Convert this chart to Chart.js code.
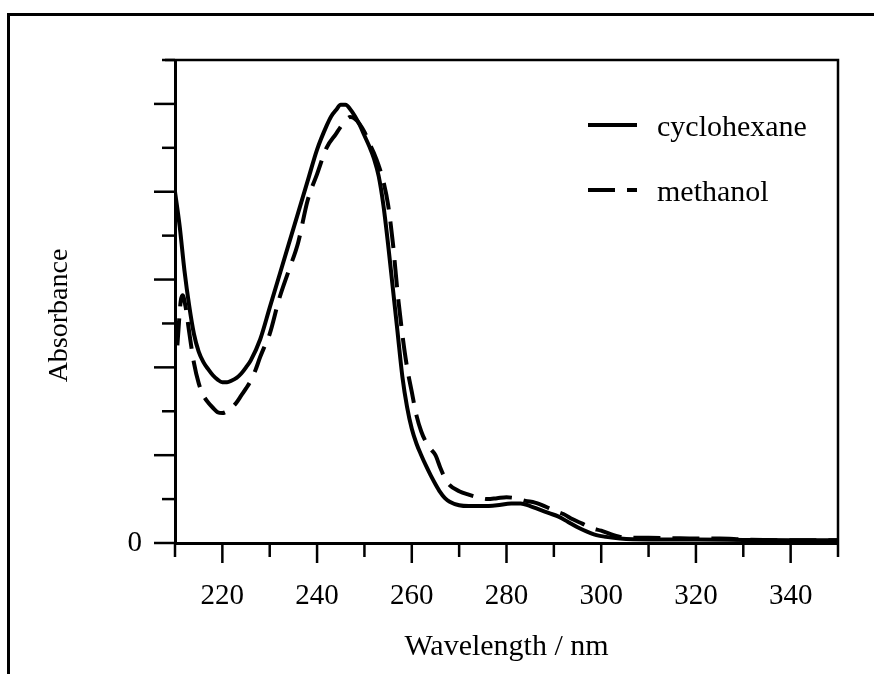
<!DOCTYPE html>
<html>
<head>
<meta charset="utf-8">
<script src="https://cdn.jsdelivr.net/npm/chart.js@4.4.1/dist/chart.umd.min.js"></script>
<style>
  html, body { margin: 0; padding: 0; background: #fff; }
  #frame { position: absolute; left: 7px; top: 13px; right: -10px; bottom: -10px;
           border-top: 3px solid #000; border-left: 3px solid #000; }
  #wrap { position: absolute; left: 0; top: 0; width: 874px; height: 674px; }
</style>
</head>
<body>
<div id="frame"></div>
<div id="wrap"><canvas id="c" width="874" height="674"></canvas></div>
<script>
// ---- data ----
const seriesNames = ['cyclohexane', 'methanol'];

const cycloWl = [210, 211, 212, 213, 214, 215, 216, 217, 218, 219, 220, 221, 222, 223, 224, 225, 226, 228, 230, 232, 234, 236, 238, 240, 242, 243, 244, 245, 246, 247, 248, 249, 250, 251, 252, 253, 254, 255, 256, 257, 258, 259, 260, 261, 262, 263, 264, 265, 266, 267, 268, 270, 272, 275, 278, 281, 283, 285, 287, 289, 291, 293, 295, 297, 299, 301, 304, 310, 320, 330, 340, 350];
const cycloAbs = [4.0, 3.6, 3.1, 2.7, 2.38, 2.18, 2.06, 1.98, 1.91, 1.86, 1.83, 1.83, 1.85, 1.88, 1.93, 2.0, 2.08, 2.32, 2.68, 3.04, 3.4, 3.76, 4.12, 4.48, 4.75, 4.86, 4.93, 4.99, 4.99, 4.94, 4.86, 4.76, 4.64, 4.52, 4.38, 4.18, 3.85, 3.4, 2.9, 2.4, 1.9, 1.55, 1.3, 1.13, 1.0, 0.88, 0.77, 0.67, 0.58, 0.51, 0.47, 0.43, 0.42, 0.42, 0.43, 0.45, 0.45, 0.42, 0.38, 0.34, 0.3, 0.24, 0.18, 0.13, 0.09, 0.07, 0.05, 0.04, 0.04, 0.035, 0.03, 0.03];

const methWl = [210.5, 211.2, 211.6, 212.2, 213, 214, 215, 216, 217, 218, 219, 220, 221, 222, 223, 224, 225, 226, 227, 228, 229, 230, 232, 234, 236, 238, 240, 242, 244, 245, 246, 247, 248, 249, 250, 251, 252, 253, 254, 255, 256, 257, 258, 259, 260, 261, 262, 263, 264, 265, 266, 267, 268, 270, 272, 274, 276, 278, 280, 282, 284, 286, 288, 290, 292, 294, 296, 298, 300, 302, 304, 306, 310, 315, 320, 325, 330, 340, 350];
const methAbs = [2.25, 2.75, 2.82, 2.7, 2.4, 2.05, 1.82, 1.68, 1.6, 1.54, 1.49, 1.48, 1.5, 1.54, 1.6, 1.68, 1.76, 1.85, 1.97, 2.12, 2.25, 2.38, 2.78, 3.1, 3.42, 3.9, 4.2, 4.5, 4.66, 4.74, 4.81, 4.85, 4.83, 4.77, 4.68, 4.56, 4.44, 4.3, 4.12, 3.85, 3.42, 2.85, 2.38, 2.0, 1.72, 1.45, 1.27, 1.15, 1.07, 1.0, 0.86, 0.74, 0.66, 0.59, 0.55, 0.52, 0.5, 0.51, 0.52, 0.51, 0.48, 0.46, 0.42, 0.37, 0.33, 0.27, 0.22, 0.17, 0.14, 0.1, 0.07, 0.06, 0.06, 0.055, 0.05, 0.05, 0.04, 0.03, 0.03];

const xMin = 210, xMax = 350, xStep = 10, xLabelEvery = 20;
const yMin = 0, yMax = 5.5, yStep = 0.5;
const yTickLabels = { 0: '0' };
const xTitle = 'Wavelength / nm';
const yTitle = 'Absorbance';

const FONT = "'Liberation Serif', 'Times New Roman', serif";

const toPts = (xs, ys) => xs.map((x, i) => ({ x: x, y: ys[i] }));

// ---- custom drawing: ticks, plot box, y title, legend ----
const decor = {
  id: 'decor',
  afterDraw(chart) {
    const ctx = chart.ctx, a = chart.chartArea;
    const xs = chart.scales.x, ys = chart.scales.y;
    ctx.save();
    ctx.strokeStyle = '#000';
    ctx.lineCap = 'butt';
    // plot box top & right
    ctx.lineWidth = 2.5;
    ctx.beginPath();
    ctx.moveTo(a.left - 10, a.top); ctx.lineTo(a.right, a.top); ctx.lineTo(a.right, a.bottom);
    ctx.stroke();
    // x ticks
    xs.ticks.forEach(t => {
      const px = xs.getPixelForValue(t.value);
      const major = t.value % xLabelEvery === 0;
      ctx.beginPath();
      ctx.moveTo(px, a.bottom);
      ctx.lineTo(px, a.bottom + (major ? 20 : 14));
      ctx.stroke();
    });
    // y ticks
    ys.ticks.forEach(t => {
      const py = ys.getPixelForValue(t.value);
      const major = Math.abs(t.value - Math.round(t.value)) < 1e-9;
      ctx.beginPath();
      ctx.moveTo(a.left, py);
      ctx.lineTo(a.left - (major ? 21 : 13), py);
      ctx.stroke();
    });
    // y axis title
    ctx.save();
    ctx.fillStyle = '#000';
    ctx.font = '28px ' + FONT;
    ctx.textAlign = 'center';
    ctx.textBaseline = 'middle';
    ctx.translate(60, (a.top + a.bottom) / 2 + 14);
    ctx.rotate(-Math.PI / 2);
    ctx.fillText(yTitle, 0, 0);
    ctx.restore();
    // legend
    const lx0 = 588, lx1 = 637, textX = 657;
    const rowsY = [125, 190];
    chart.data.datasets.forEach((ds, i) => {
      const y = rowsY[i];
      ctx.lineWidth = ds.borderWidth;
      ctx.setLineDash(ds.borderDash || []);
      ctx.beginPath();
      ctx.moveTo(lx0, y); ctx.lineTo(lx1, y);
      ctx.stroke();
      ctx.setLineDash([]);
      ctx.fillStyle = '#000';
      ctx.font = '30px ' + FONT;
      ctx.textBaseline = 'alphabetic';
      ctx.textAlign = 'left';
      ctx.fillText(ds.label, textX, y + 11);
    });
    ctx.restore();
  }
};

new Chart(document.getElementById('c'), {
  type: 'line',
  data: {
    datasets: [
      { label: seriesNames[0], data: toPts(cycloWl, cycloAbs), borderColor: '#000', borderWidth: 4,
        pointRadius: 0, cubicInterpolationMode: 'monotone', fill: false },
      { label: seriesNames[1], data: toPts(methWl, methAbs), borderColor: '#000', borderWidth: 4,
        borderDash: [27, 12], pointRadius: 0, cubicInterpolationMode: 'monotone', fill: false }
    ]
  },
  options: {
    responsive: false,
    animation: false,
    devicePixelRatio: 1,
    layout: { padding: { left: 0, top: 60, right: 35, bottom: 0 } },
    plugins: { legend: { display: false }, tooltip: { enabled: false } },
    scales: {
      x: {
        type: 'linear', min: xMin, max: xMax,
        afterFit(s) { s.height = 131; },
        ticks: {
          stepSize: xStep, autoSkip: false, maxRotation: 0, padding: 36,
          color: '#000', font: { family: FONT, size: 29 },
          callback: v => (v % xLabelEvery === 0 ? String(v) : '')
        },
        grid: { drawOnChartArea: false, drawTicks: false },
        border: { display: true, color: '#000', width: 3 },
        title: { display: true, text: xTitle, color: '#000', font: { family: FONT, size: 30 },
                 padding: { top: 10, bottom: 9 } }
      },
      y: {
        type: 'linear', min: yMin, max: yMax,
        afterFit(s) { s.width = 175; },
        ticks: {
          stepSize: yStep, autoSkip: false, padding: 33,
          color: '#000', font: { family: FONT, size: 29 },
          callback: v => (yTickLabels[v] !== undefined ? yTickLabels[v] : '')
        },
        grid: { drawOnChartArea: false, drawTicks: false },
        border: { display: true, color: '#000', width: 3 },
        title: { display: false }
      }
    }
  },
  plugins: [decor]
});
</script>
</body>
</html>
